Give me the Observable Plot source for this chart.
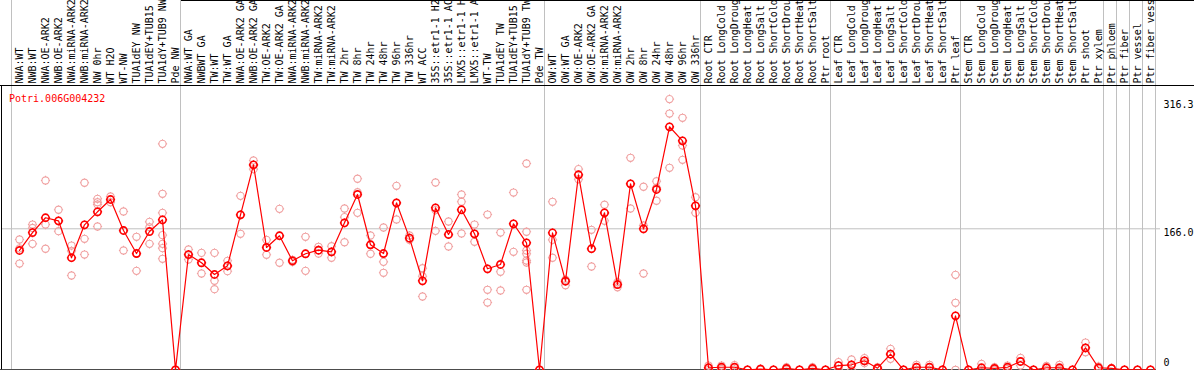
<!DOCTYPE html>
<html><head><meta charset="utf-8">
<script src="https://cdn.jsdelivr.net/npm/d3@7"></script>
<script src="https://cdn.jsdelivr.net/npm/@observablehq/plot@0.6"></script>
<style>html,body{margin:0;padding:0;background:#fff;overflow:hidden} svg{display:block}</style>
</head><body><div id="chart"></div>
<script>
const geneName = "Potri.006G004232";
const categories = [
 "NWA:WT","NWB:WT","NWA:OE-ARK2","NWB:OE-ARK2","NWA:miRNA-ARK2","NWB:miRNA-ARK2","NW 0hr","WT H2O","WT-NW",
 "TUA1dEY NW","TUA1dEY+TUB15 NW","TUA1dY+TUB9 NW","Pde NW",
 "NWA:WT GA","NWBWT GA","TW:WT","TW:WT GA","NWA:OE-ARK2 GA","NWB:OE-ARK2 GA","TW:OE-ARK2","TW:OE-ARK2 GA",
 "NWA:miRNA-ARK2 GA","NWB:miRNA-ARK2 GA","TW:miRNA-ARK2","TW:miRNA-ARK2 GA",
 "TW 2hr","TW 8hr","TW 24hr","TW 48hr","TW 96hr","TW 336hr","WT ACC",
 "35S::etr1-1 H2O","35S::etr1-1 ACC","LMX5::etr1-1 H2O","LMX5::etr1-1 ACC","WT-TW",
 "TUA1dEY TW","TUA1dEY+TUB15 TW","TUA1dY+TUB9 TW","Pde TW",
 "OW:WT","OW:WT GA","OW:OE-ARK2","OW:OE-ARK2 GA","OW:miRNA-ARK2","OW:miRNA-ARK2 GA",
 "OW 2hr","OW 8hr","OW 24hr","OW 48hr","OW 96hr","OW 336hr",
 "Root CTR","Root LongCold","Root LongDrought","Root LongHeat","Root LongSalt","Root ShortCold","Root ShortDrought","Root ShortHeat","Root ShortSalt","Ptr root",
 "Leaf CTR","Leaf LongCold","Leaf LongDrought","Leaf LongHeat","Leaf LongSalt","Leaf ShortCold","Leaf ShortDrought","Leaf ShortHeat","Leaf ShortSalt","Ptr leaf",
 "Stem CTR","Stem LongCold","Stem LongDrought","Stem LongHeat","Stem LongSalt","Stem ShortCold","Stem ShortDrought","Stem ShortHeat","Stem ShortSalt","Ptr shoot",
 "Ptr xylem","Ptr phloem","Ptr fiber","Ptr vessel","Ptr fiber vessel"
];
const means = [
 140.5,161.6,179,175.4,131.9,170.7,186,200.5,164,136.9,162.8,176.6,0,
 135.7,126,112.2,122.4,182.5,241.3,144,157.8,128.3,136.6,140.8,138.9,
 173,206.4,147.2,136.9,196.6,155,104.8,190.7,159.3,188.4,160.1,118.9,124,171.9,149.5,0,
 161.3,104.3,229.6,142.5,184.8,100.4,219,166,212.3,286.1,269.6,193.1,
 2.4,3,3,0,0.8,0,1.6,0,1.6,0,
 5,5.9,10.6,1.9,18.4,0,3,3,0,63.6,
 0,2.4,1.6,3,9.8,0,2.4,2.4,0,25.9,
 2.4,1.6,0,0,0
];
const replicates = [
 [153.4,143,125.1],[171,167,148.3],[222.9,171,142.5],[188.4,175,163.2],[146.3,140,111],[220.2,154.2,135.7],
 [201.3,197.3,194.6,168.7],[204,197.3],[186.4,164,140.5],[156.6,137,116.5],[174.2,167.9,148.3],
 [266,207.2,184.8,158.5,148.3,143.2,130.7],[0,0,0],
 [141.6,135.7,129.9],[137.7,126,113.4],[137.7,104.8,94.9],[128.3,122.4,116.1],[204.8,182.5,160.1],[246.4,241.3,236.2],
 [153,144,135.4],[189.5,157.8,126],[129.5,127],[156.6,136.6,116.5],[144.8,140.8,136.9],[145.5,138.9,131.9],
 [189.9,179.7,150.2],[224.9,209,184.8],[158.1,147.2,136.6],[167.5,127.1,114.2],[216.6,196,177],[158.1,155,153],
 [119.6,110.2,86.3],[220.5,188,163.6],[174.6,159.3,145.2],[206.4,197.8,160.5],[171,160.1,150.7],[182.8,94.2,79.2],
 [161.6,115.4,93.4],[208.7,171.9,138.9],[242.9,162.5,140.5,136.6,128.7,126.3,94.2],[0,0,0],
 [197.8,153,131.9],[106,104.3,99.6],[236.2,229.6,224.4],[164.8,142.5,121.6],[194.3,184.8,175.4],[103.1,100.4,97.2],
 [249.6,219,189.9],[215.5,169.9,113.4],[222,214.3,199],[318.7,301.7,237.8],[296.7,264.1,247.2],[203.2,193.1,184.8],
 [5,2.4,0],[5,3,1],[5.5,3,0.5],[0,0,0],[1.5,0.8,0],[0,0,0],[3,1.6,0],[0,0,0],[3,1.6,0],[0,0,0],
 [9,5,1],[12.1,5.9,0],[13.7,10.6,7.8],[3,1.9,0.8],[24.7,18.4,12.9],[0,0,0],[5.9,3,0],[5.9,3,0],[0,0,0],[111.8,78.9,0],
 [0,0,0],[7,0,0],[3,1.6,0],[5,3,1],[14.1,9.8,5],[0,0,0],[4.5,2.4,0],[5.9,1.2,0],[0,0,0],[32.1,25.9,20.7],
 [4,2.4,0.8],[1.6,1.6,1.6],[0,0,0],[0,0,0],[0,0,0]
];
const groupEnds = ["Pde NW","Pde TW","OW 336hr","Ptr root","Ptr leaf","Ptr xylem","Ptr phloem","Ptr fiber","Ptr vessel","Ptr fiber vessel"];
const gridValues = [166.0];
const yTicksTop = [316.3, 166.0];
const yTicksTopLabels = ["316.3","166.0"];
const yTickZero = [0];
const yTop = 334.7;

const meanRows = categories.map((c, i) => ({cat: c, v: means[i]}));
const repRows = categories.flatMap((c, i) => replicates[i].map(v => ({cat: c, v})));

const sun = {
  draw(ctx, size) {
    const r = Math.sqrt(size / Math.PI);
    ctx.moveTo(r, 0);
    ctx.arc(0, 0, r, 0, 2 * Math.PI);
    for (const [a, b] of [[1,0],[-1,0],[0,1],[0,-1]]) {
      ctx.moveTo(a * r, b * r);
      ctx.lineTo(a * (r + 1), b * (r + 1));
    }
  }
};

const font = "DejaVu Sans Mono";
const chart = Plot.plot({
  width: 1194, height: 370,
  marginTop: 0, marginBottom: 0, marginLeft: 0, marginRight: 0,
  style: {fontFamily: font, fontSize: "10px", background: "white", overflow: "hidden"},
  x: {type: "point", domain: categories, range: [19.3, 1150.3], padding: 0, axis: null},
  y: {domain: [0, yTop], range: [369.3, 85], axis: null},
  marks: [
    Plot.ruleX([categories[0]], {x: d => d, dx: -8, stroke: "#c0c0c0", insetBottom: 1}),
    Plot.ruleX(groupEnds, {x: d => d, dx: 5, stroke: "#c0c0c0", insetBottom: 1}),
    Plot.ruleY(gridValues, {y: d => d, stroke: "#c0c0c0", insetLeft: 1, insetRight: 34}),
    Plot.ruleY([yTop], {y: d => d, stroke: "black"}),
    Plot.ruleY([yTop], {y: d => d, dy: -85, stroke: "black", insetLeft: 181}),
    Plot.ruleY([0], {y: d => d, stroke: "black", insetRight: 38}),
    Plot.ruleX([categories[0]], {x: d => d, dx: -18, y1: 0, y2: yTop, stroke: "black"}),
    Plot.dot(repRows, {x: "cat", y: "v", r: 3.6, symbol: sun, fill: "none", stroke: "rgb(240,160,160)", strokeWidth: 1.1}),
    Plot.line(meanRows, {x: "cat", y: "v", stroke: "red", strokeWidth: 1.2}),
    Plot.dot(meanRows, {x: "cat", y: "v", r: 3.6, symbol: sun, fill: "none", stroke: "red", strokeWidth: 1.6}),
    Plot.text(categories, {x: d => d, text: d => d, frameAnchor: "top", dy: 83, rotate: -90, textAnchor: "start", lineAnchor: "middle", fill: "black"}),
    Plot.text([geneName], {text: d => d, frameAnchor: "top-left", dx: 8.5, dy: 94, textAnchor: "start", lineAnchor: "top", fill: "red"}),
    Plot.text(yTicksTop, {y: d => d, text: (d, i) => yTicksTopLabels[i], frameAnchor: "right", dx: -31, textAnchor: "start", lineAnchor: "top", fill: "black"}),
    Plot.text(yTickZero, {y: d => d, text: d => String(d), frameAnchor: "right", dx: -31, dy: -4, textAnchor: "start", lineAnchor: "bottom", fill: "black"})
  ]
});
document.getElementById("chart").appendChild(chart);
</script>
</body></html>
